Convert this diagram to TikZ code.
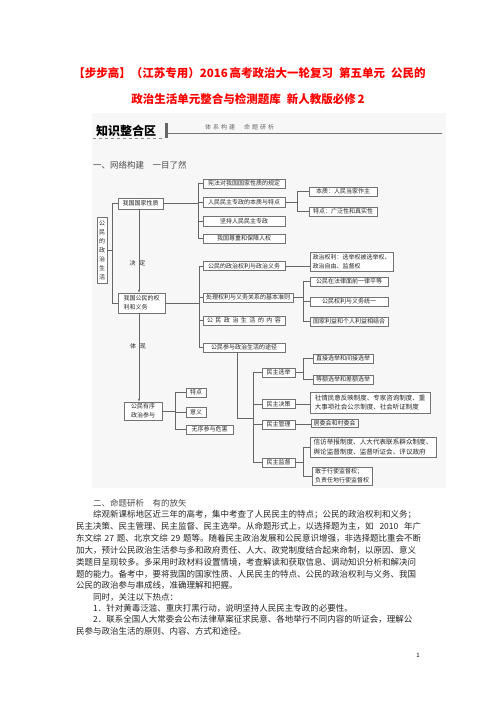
\documentclass[tikz,border=0pt]{standalone}
\usepackage{fontspec}
\setmainfont{Noto Sans CJK SC}
\usetikzlibrary{arrows.meta}
\XeTeXlinebreaklocale "zh"
\XeTeXlinebreakskip=0pt plus 3pt
\newcommand\fillline[2]{\hbox to #1{#2}}
\begin{document}
\begin{tikzpicture}[x=1pt,y=-1pt,
  box/.style={draw=black!55, line width=0.5pt, fill=white, inner sep=1pt, text=black!85, font=\fontsize{6}{9}\selectfont},
  link/.style={draw=black!60, line width=0.5pt},
  tip/.style={-{Latex[length=3pt,width=2.2pt]}},
  lbl/.style={inner sep=0pt, text=black!85, font=\fontsize{6}{7}\selectfont},
  txt/.style={anchor=west, inner sep=0pt, text=black!85, font=\fontsize{8.5}{10}\selectfont},
  ttl/.style={inner sep=0pt, text=red, font=\bfseries\fontsize{11.5}{13}\selectfont}]
\fill[white] (0,0) rectangle (496,702);
\useasboundingbox (0,0) rectangle (496,702);
\fill[black!3] (92,113) rectangle (446,488);
\node[ttl] (bt1) at (249.5,73) {【步步高】（江苏专用）2016\,高考政治大一轮复习\hspace{6pt}第五单元\hspace{6pt}公民的};
\node[ttl] (bt2) at (248,99) {政治生活单元整合与检测题库\hspace{6pt}新人教版必修\,2};
\node[anchor=west, inner sep=0pt, font=\bfseries\fontsize{12}{14}\selectfont] (zszh) at (96,131) {知识整合区};
\fill[black!60] (164.5,123) rectangle (167.5,138);
\draw[black!55, line width=0.6pt] (167.5,133) -- (442,133);
\draw[black!45, dashed, line width=0.4pt] (93,138.5) -- (163,138.5);
\node[anchor=west, inner sep=0pt, text=black!60, font=\fontsize{6}{7}\selectfont] (txgj) at (205,127) {体\hspace{2pt}系\hspace{2pt}构\hspace{2pt}建\hspace{9pt}命\hspace{2pt}题\hspace{2pt}研\hspace{2pt}析};
\node[txt, text=black!70] (wlgj) at (93,165) {一、网络构建　一目了然};
\node[box, minimum width=10, minimum height=66, align=center] (zzsh) at (102,250) {公\\民\\的\\政\\治\\生\\活};
\node[box, minimum width=45, minimum height=11] (gjxz) at (140.5,203.5) {我国国家性质};
\node[box, minimum width=47, minimum height=20, align=left] (qlyw) at (141.5,303) {我国公民的权\\利和义务};
\node[box, minimum width=38, minimum height=18, align=left] (yxcy) at (143,411) {公民有序\\政治参与};
\coordinate (k0) at (112,0);
\draw[link] (zzsh.east) -- (zzsh.east -| k0);
\draw[link] (gjxz.west) -- (gjxz.west -| k0) -- (qlyw.west -| k0) -- (qlyw.west);
\coordinate (sp) at (139,0);
\draw[link, tip] (gjxz.south -| sp) -- (qlyw.north -| sp);
\draw[link, tip] (qlyw.south -| sp) -- (yxcy.north -| sp);
\node[lbl] (jd) at (137.5,263) {决\hspace{4pt}定};
\node[lbl] (tx) at (138,346) {体\hspace{4pt}现};
\node[box, minimum width=82, minimum height=9] (xf) at (244,183.5) {宪法对我国国家性质的规定};
\node[box, minimum width=82, minimum height=10] (bztd) at (244,202) {人民民主专政的本质与特点};
\node[box, minimum width=82, minimum height=10] (jc) at (244,221) {坚持人民民主专政};
\node[box, minimum width=82, minimum height=9] (rq) at (244,238.5) {我国尊重和保障人权};
\coordinate (k1) at (198,0);
\draw[link] (gjxz.east) -- (gjxz.east -| k1);
\draw[link] (xf.west) -- (xf.west -| k1) -- (rq.west -| k1) -- (rq.west);
\draw[link] (bztd.west) -- (bztd.west -| k1);
\draw[link] (jc.west) -- (jc.west -| k1);
\node[box, minimum width=68, minimum height=9] (bz) at (343,191.5) {本质：人民当家作主};
\node[box, minimum width=68, minimum height=9] (td) at (343,211.5) {特点：广泛性和真实性};
\coordinate (k2) at (297,0);
\draw[link] (bztd.east) -- (bztd.east -| k2);
\draw[link] (bz.west) -- (bz.west -| k2) -- (td.west -| k2) -- (td.west);
\node[box, minimum width=82, minimum height=9] (zzql) at (244,266) {公民的政治权利与政治义务};
\node[box, minimum width=90, minimum height=9] (jbzz) at (248,297.5) {处理权利与义务关系的基本准则};
\node[box, minimum width=82, minimum height=9] (nr) at (244,320.5) {公\hspace{2.5pt}民\hspace{2.5pt}政\hspace{2.5pt}治\hspace{2.5pt}生\hspace{2.5pt}活\hspace{2.5pt}的\hspace{2.5pt}内\hspace{2.5pt}容};
\node[box, minimum width=82, minimum height=9] (tj) at (244,347.5) {公民参与政治生活的途径};
\coordinate (k3) at (199,0);
\draw[link] (qlyw.east) -- (qlyw.east -| k3);
\draw[link] (zzql.west) -- (zzql.west -| k3) -- (tj.west -| k3) -- (tj.west);
\draw[link] (jbzz.west) -- (jbzz.west -| k3);
\draw[link] (nr.west) -- (nr.west -| k3);
\node[box, minimum width=83, minimum height=19, align=left] (qlnr) at (351.5,261.5) {政治权利：选举权被选举权、\\政治自由、监督权};
\draw[link] (zzql.east) -- (zzql.east -| qlnr.west);
\node[box, minimum width=78, minimum height=9] (pd) at (349,281.5) {公民在法律面前一律平等};
\node[box, minimum width=78, minimum height=9] (ty) at (349,301.5) {公民权利与义务统一};
\node[box, minimum width=78, minimum height=9] (jh) at (349,321.5) {国家利益和个人利益相结合};
\coordinate (k4) at (303,0);
\draw[link] (jbzz.east) -- (jbzz.east -| k4);
\draw[link] (pd.west) -- (pd.west -| k4) -- (jh.west -| k4) -- (jh.west);
\draw[link] (ty.west) -- (ty.west -| k4);
\node[box, minimum width=33, minimum height=9] (mzxj) at (278.5,372.5) {民主选举};
\node[box, minimum width=33, minimum height=9] (mzjc) at (278.5,404) {民主决策};
\node[box, minimum width=33, minimum height=9] (mzgl) at (278.5,424.5) {民主管理};
\node[box, minimum width=33, minimum height=9] (mzjd) at (278.5,462.5) {民主监督};
\coordinate (tjx) at (237,0);
\coordinate (k5) at (253,418);
\draw[link] (tj.south -| tjx) |- (k5);
\draw[link] (mzxj.west) -- (mzxj.west -| k5) -- (mzjd.west -| k5) -- (mzjd.west);
\draw[link] (mzjc.west) -- (mzjc.west -| k5);
\draw[link] (mzgl.west) -- (mzgl.west -| k5);
\node[box, minimum width=60, minimum height=9] (zjxj) at (343,358.5) {直接选举和间接选举};
\node[box, minimum width=60, minimum height=9] (dexj) at (343,379.5) {等额选举和差额选举};
\coordinate (k6) at (303,0);
\draw[link] (mzxj.east) -- (mzxj.east -| k6);
\draw[link] (zjxj.west) -- (zjxj.west -| k6) -- (dexj.west -| k6) -- (dexj.west);
\node[box, minimum width=120, minimum height=21, align=left, font=\fontsize{6.5}{9.5}\selectfont] (jczd) at (370,402.5) {社情民意反映制度、专家咨询制度、重\\大事项社会公示制度、社会听证制度};
\draw[link] (mzjc.east) -- (mzjc.east -| jczd.west);
\node[box, minimum width=47, minimum height=8] (jwh) at (334.5,423) {居委会和村委会};
\draw[link] (mzgl.east) -- (mzgl.east -| jwh.west);
\node[box, minimum width=126, minimum height=20, align=left, font=\fontsize{6.6}{9.5}\selectfont] (jdzd) at (373,447) {信访举报制度、人大代表联系群众制度、\\舆论监督制度、监督听证会、评议政府};
\node[box, minimum width=60, minimum height=18, align=left] (xsjd) at (342,476) {敢于行使监督权；\\负责任地行使监督权};
\coordinate (k7) at (303,0);
\draw[link] (mzjd.east) -- (mzjd.east -| k7);
\draw[link] (jdzd.west) -- (jdzd.west -| k7) -- (xsjd.west -| k7) -- (xsjd.west);
\node[box, minimum width=20, minimum height=9] (tdd) at (196,392.5) {特点};
\node[box, minimum width=20, minimum height=10] (yy) at (196,412) {意义};
\node[box, minimum width=47, minimum height=9] (wx) at (209.5,429.5) {无序参与危害};
\coordinate (k8) at (175,0);
\draw[link] (yxcy.east) -- (yxcy.east -| k8);
\draw[link] (tdd.west) -- (tdd.west -| k8) -- (wx.west -| k8) -- (wx.west);
\draw[link] (yy.west) -- (yy.west -| k8);
\node[txt, text=black!70] (mtyx) at (93,503) {二、命题研析　有的放矢};
\node[txt] (p1) at (93,515) {\fillline{328pt}{综观新课标地区近三年的高考，集中考查了人民民主的特点；公民的政治权利和义务；}};
\node[txt] (p2) at (76,526.8) {\fillline{345pt}{民主决策、民主管理、民主监督、民主选举。从命题形式上，以选择题为主，如 2010 年广}};
\node[txt] (p3) at (76,538.6) {\fillline{345pt}{东文综 27 题、北京文综 29 题等。随着民主政治发展和公民意识增强，非选择题比重会不断}};
\node[txt] (p4) at (76,550.4) {\fillline{345pt}{加大，预计公民政治生活参与多和政府责任、人大、政党制度结合起来命制，以原因、意义}};
\node[txt] (p5) at (76,562.2) {\fillline{345pt}{类题目呈现较多。多采用时政材料设置情境，考查解读和获取信息、调动知识分析和解决问}};
\node[txt] (p6) at (76,574) {\fillline{345pt}{题的能力。备考中，要将我国的国家性质、人民民主的特点、公民的政治权利与义务、我国}};
\node[txt] (p7) at (76,585.5) {公民的政治参与串成线，准确理解和把握。};
\node[txt] (p8) at (93,597) {同时，关注以下热点：};
\node[txt] (p9) at (93,608.3) {1．针对黄毒泛滥、重庆打黑行动，说明坚持人民民主专政的必要性。};
\node[txt] (p10) at (93,619.6) {\fillline{328pt}{2．联系全国人大常委会公布法律草案征求民意、各地举行不同内容的听证会，理解公}};
\node[txt] (p11) at (76,631) {民参与政治生活的原则、内容、方式和途径。};
\node[inner sep=0pt, font=\fontsize{6}{7}\selectfont] (ym) at (418,655) {1};
\end{tikzpicture}
\end{document}
